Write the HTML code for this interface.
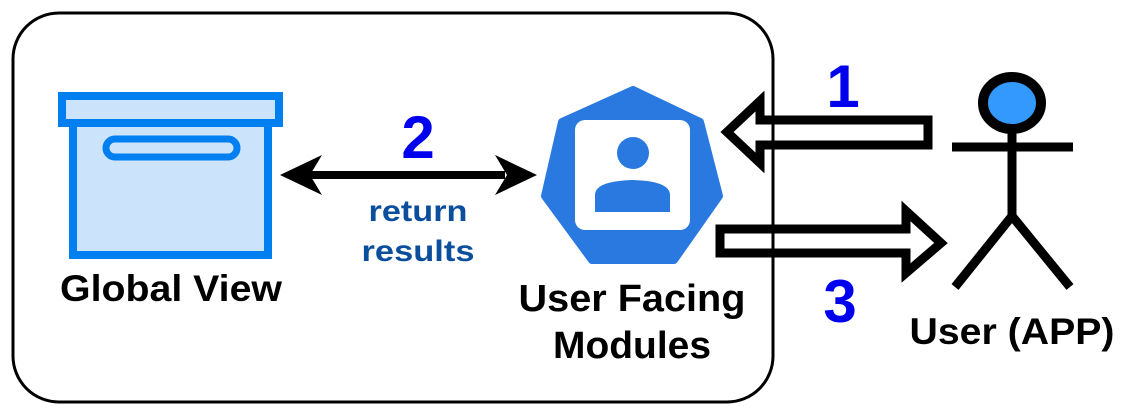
<!DOCTYPE html>
<html><head><style>
body{margin:0;background:#fff;}
svg{display:block;}
text{font-family:"Liberation Sans",sans-serif;font-weight:bold;}
</style></head><body>
<svg width="1133" height="414" viewBox="0 0 1133 414" xmlns="http://www.w3.org/2000/svg">
<rect x="13" y="13" width="760" height="389" rx="46" fill="#fff" stroke="#000" stroke-width="3"/>
<!-- box -->
<rect x="73" y="122" width="195" height="133" fill="#cce4fb" stroke="#0080f0" stroke-width="8"/>
<rect x="62" y="96" width="217" height="27" fill="#cce4fb" stroke="#0080f0" stroke-width="8"/>
<rect x="106" y="139" width="131" height="18" rx="9" fill="#cce4fb" stroke="#0080f0" stroke-width="7"/>
<text x="171" y="301" font-size="37" text-anchor="middle" textLength="222" lengthAdjust="spacingAndGlyphs">Global View</text>
<!-- double arrow -->
<line x1="310" y1="175" x2="505" y2="175" stroke="#000" stroke-width="8"/>
<polygon points="280,175 322,155 310,175 322,195" fill="#000"/>
<polygon points="537,175 495,155 507,175 495,195" fill="#000"/>
<text x="418" y="158" font-size="60" fill="#0000ee" text-anchor="middle">2</text>
<text x="418" y="221" font-size="30" fill="#0b4e9c" text-anchor="middle" textLength="99" lengthAdjust="spacingAndGlyphs">return</text>
<text x="418" y="261" font-size="30" fill="#0b4e9c" text-anchor="middle" textLength="113" lengthAdjust="spacingAndGlyphs">results</text>
<!-- heptagon -->
<polygon points="633,90 700,122 719,196 674,260 592,260 545,196 562,122" fill="#2979e0" stroke="#2979e0" stroke-width="8" stroke-linejoin="round"/>
<rect x="575" y="120" width="115" height="110" rx="10" fill="#fff"/>
<circle cx="633" cy="153" r="16" fill="#2979e0"/>
<path d="M595,212 L595,195 Q595,181 633,180 Q670,181 670,195 L670,212 Z" fill="#2979e0"/>
<text x="632" y="311" font-size="38" text-anchor="middle" textLength="227" lengthAdjust="spacingAndGlyphs">User Facing</text>
<text x="632" y="358" font-size="38" text-anchor="middle" textLength="158" lengthAdjust="spacingAndGlyphs">Modules</text>
<!-- arrow 1 -->
<polygon points="928,120 928,145 760,145 760,163 727,132 760,101 760,120" fill="#fff" stroke="#000" stroke-width="9"/>
<!-- arrow 3 -->
<polygon points="720,229 720,253 906,253 906,273 941,243 906,211 906,229" fill="#fff" stroke="#000" stroke-width="9"/>
<line x1="773" y1="60" x2="773" y2="355" stroke="#000" stroke-width="3"/>
<text x="843" y="107" font-size="60" fill="#0000ee" text-anchor="middle">1</text>
<text x="840" y="322" font-size="60" fill="#0000ee" text-anchor="middle">3</text>
<!-- stick figure -->
<ellipse cx="1012" cy="103" rx="29" ry="26" fill="#3399ff" stroke="#000" stroke-width="10"/>
<line x1="1012" y1="130" x2="1012" y2="216" stroke="#000" stroke-width="9"/>
<line x1="952" y1="147" x2="1073" y2="147" stroke="#000" stroke-width="9"/>
<polyline points="955,287 1012,216 1070,287" fill="none" stroke="#000" stroke-width="9"/>
<text x="1012" y="344" font-size="37" text-anchor="middle" textLength="205" lengthAdjust="spacingAndGlyphs">User (APP)</text>
</svg>
</body></html>
